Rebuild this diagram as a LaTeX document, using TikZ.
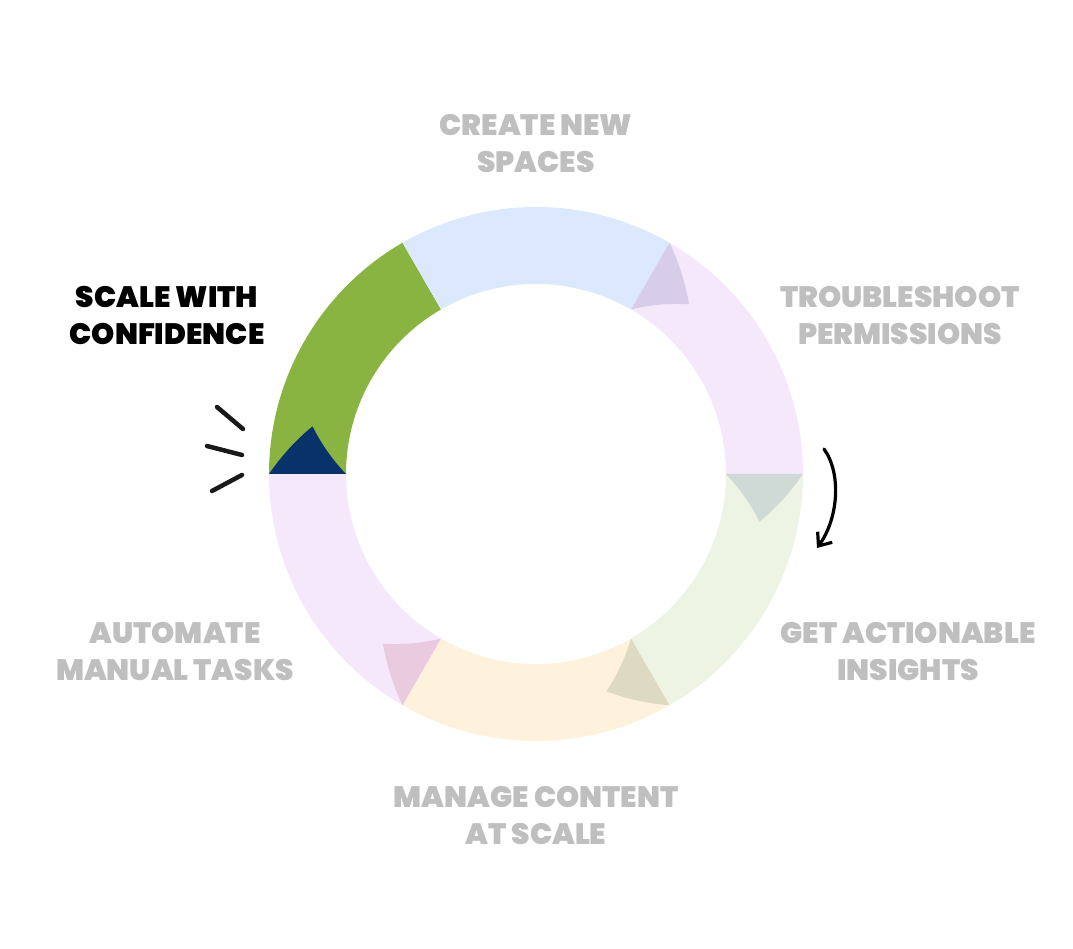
\documentclass[tikz,border=0pt]{standalone}
\usepackage{fontspec}
\setmainfont{Poppins}
\newfontfamily\phasefont{Poppins}[UprightFont={* Black}]
\usetikzlibrary{positioning,arrows.meta,calc}

\definecolor{segblue}{HTML}{DCE8FC}
\definecolor{segpurple}{HTML}{F5E8FB}
\definecolor{segmint}{HTML}{EDF4E3}
\definecolor{segorange}{HTML}{FEF2DC}
\definecolor{seggreen}{HTML}{8AB441}
\definecolor{tabnavy}{HTML}{0A326A}
\definecolor{tablilac}{HTML}{D7CDE9}
\definecolor{tabgrey}{HTML}{CFD9D5}
\definecolor{tabolive}{HTML}{DDD9C2}
\definecolor{tabpink}{HTML}{EACADF}
\definecolor{phasegrey}{HTML}{BFBFBF}

% ring piece from angle #1 to #2
\newcommand{\ringpiece}[3]{%
  \fill[#3] (#1:267pt) arc[start angle=#1, end angle=#2, radius=267pt]
    -- (#2:190pt) arc[start angle=#2, end angle=#1, radius=190pt] -- cycle;}
% pointed tab at the start of a piece
\newcommand{\ringtab}[2]{%
  \fill[#2] (#1:267pt)
    -- plot[domain=0:12, samples=13] ({#1-\x}:{267-3.2*\x})
    -- plot[domain=12:0, samples=13] ({#1-\x}:{190+3.2*\x}) -- cycle;}

\begin{document}
\begin{tikzpicture}[x=1pt, y=1pt,
phase/.style={font=\phasefont\fontsize{29.5}{37}\selectfont, align=center, text=phasegrey},
current/.style={phase, text=black},
sketch/.style={line width=4.5pt, line cap=round, black!90},
]
\useasboundingbox (-536,-475) rectangle (537,474);

\ringpiece{180}{120}{seggreen}
\ringpiece{120}{60}{segblue}
\ringpiece{60}{0}{segpurple}
\ringpiece{0}{-60}{segmint}
\ringpiece{-60}{-120}{segorange}
\ringpiece{-120}{-180}{segpurple}

\ringtab{60}{tablilac}
\ringtab{0}{tabgrey}
\ringtab{-60}{tabolive}
\ringtab{-120}{tabpink}
\ringtab{180}{tabnavy}

\node[phase] (create) at (0,330) {CREATE NEW\\SPACES};
\node[phase] (troubleshoot) at (364,159) {TROUBLESHOOT\\PERMISSIONS};
\node[phase] (insights) at (372,-177) {GET ACTIONABLE\\INSIGHTS};
\node[phase] (manage) at (0,-341) {MANAGE CONTENT\\AT SCALE};
\node[phase] (automate) at (-361,-177) {AUTOMATE\\MANUAL TASKS};
\node[current] (scale) at (-369,159) {SCALE WITH\\CONFIDENCE};

% turning arrow
\coordinate (turn start) at (288,25);
\coordinate (turn end) at (281,-74);
\draw[line width=3.2pt, line cap=round, -{Straight Barb[length=11pt, width=18pt]}]
  (turn start) .. controls (306,0) and (302,-45) .. (turn end);

% sparkle lines
\coordinate (s1a) at (-319,67);  \coordinate (s1b) at (-293,45);
\coordinate (s2a) at (-329,28);  \coordinate (s2b) at (-294,19);
\coordinate (s3a) at (-324,-17); \coordinate (s3b) at (-294,-1);
\draw[sketch] (s1a) -- (s1b);
\draw[sketch] (s2a) -- (s2b);
\draw[sketch] (s3a) -- (s3b);
\end{tikzpicture}
\end{document}
